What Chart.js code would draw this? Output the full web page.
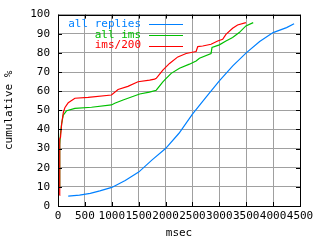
<!DOCTYPE html>
<html><head><meta charset="utf-8">
<script src="https://cdn.jsdelivr.net/npm/chart.js@4/dist/chart.umd.min.js"></script>
<style>html,body{margin:0;padding:0;background:#fff}#wrap{width:320px;height:240px}</style>
</head><body><div id="wrap"><canvas id="c" width="320" height="240"></canvas></div>
<script>
const seriesNames = ['all replies', 'all ims', 'ims/200'];
const seriesColors = ['rgb(0,128,255)', 'rgb(0,192,0)', 'rgb(255,0,0)'];
const xTicks = [0, 500, 1000, 1500, 2000, 2500, 3000, 3500, 4000, 4500];
const yTicks = [0, 10, 20, 30, 40, 50, 60, 70, 80, 90, 100];

const allRepliesX = [190, 400, 600, 778, 1000, 1250, 1500, 1750, 2000, 2250, 2500, 2750, 3000, 3250, 3500, 3750, 4000, 4250, 4390];
const allRepliesY = [5.2, 5.7, 6.6, 7.9, 9.7, 13.3, 17.7, 24.1, 30, 38, 48, 56.8, 65.4, 73.2, 80, 85.9, 90.6, 93.2, 95.2];

const allImsX = [30, 31, 33, 47, 68, 98, 161, 315, 623, 994, 1055, 1210, 1519, 1700, 1827, 1950, 2012, 2105, 2259, 2444, 2568, 2630, 2846, 2864, 3000, 3123, 3247, 3370, 3494, 3630];
const allImsY = [10, 20, 32, 38, 43, 47.5, 49.8, 51, 51.6, 52.8, 53.7, 55.4, 58.5, 59.5, 60.5, 64.9, 66.7, 69.3, 72, 74.1, 75.8, 77.2, 79.7, 82.8, 84.2, 86.2, 88, 90.6, 94.1, 95.8];

const ims200X = [30, 31, 33, 47, 68, 100, 130, 191, 315, 561, 994, 1117, 1300, 1488, 1704, 1796, 1827, 1950, 2074, 2228, 2383, 2475, 2568, 2599, 2691, 2846, 2969, 3062, 3123, 3247, 3339, 3494];
const ims200Y = [5.6, 20, 35, 36, 43, 49, 51.5, 54, 56.3, 56.8, 58, 60.9, 62.5, 64.9, 65.8, 66.3, 66.7, 71, 74.5, 77.9, 79.7, 80.2, 80.7, 83.3, 83.6, 84.5, 86.2, 87.1, 89.7, 92.9, 94.6, 95.8];

const pts = (xs, ys) => xs.map((x, i) => ({x: x, y: ys[i]}));
const FONT = {family: "'DejaVu Sans Mono', monospace", size: 11, lineHeight: 1.2};

const frame = {
  id: 'frame',
  afterDatasetsDraw(chart) {
    const {ctx, chartArea: a, scales} = chart;
    ctx.save();
    ctx.strokeStyle = '#000';
    ctx.lineWidth = 1;
    ctx.beginPath();
    const tl = 4;
    xTicks.forEach(v => {
      const px = Math.round(scales.x.getPixelForValue(v)) + 0.5;
      ctx.moveTo(px, a.bottom); ctx.lineTo(px, a.bottom - tl);
      ctx.moveTo(px, a.top); ctx.lineTo(px, a.top + tl);
    });
    yTicks.forEach(v => {
      const py = Math.round(scales.y.getPixelForValue(v)) + 0.5;
      ctx.moveTo(a.left, py); ctx.lineTo(a.left + tl, py);
      ctx.moveTo(a.right, py); ctx.lineTo(a.right - tl, py);
    });
    ctx.stroke();
    ctx.strokeRect(Math.round(a.left) + 0.5, Math.round(a.top) + 0.5, Math.round(a.right - a.left), Math.round(a.bottom - a.top));
    // legend
    ctx.font = "11px 'DejaVu Sans Mono', monospace";
    ctx.textAlign = 'right';
    ctx.textBaseline = 'middle';
    const rows = [24, 35, 45.5];
    chart.data.datasets.forEach((ds, i) => {
      ctx.fillStyle = ds.borderColor;
      ctx.fillText(ds.label, 141, rows[i]);
      ctx.strokeStyle = ds.borderColor;
      ctx.beginPath();
      ctx.moveTo(149, Math.round(rows[i]) + 0.5);
      ctx.lineTo(183, Math.round(rows[i]) + 0.5);
      ctx.stroke();
    });
    ctx.restore();
  }
};

new Chart(document.getElementById('c'), {
  type: 'scatter',
  data: {
    datasets: [
      {label: seriesNames[0], data: pts(allRepliesX, allRepliesY), borderColor: seriesColors[0], order: 3},
      {label: seriesNames[1], data: pts(allImsX, allImsY), borderColor: seriesColors[1], order: 2},
      {label: seriesNames[2], data: pts(ims200X, ims200Y), borderColor: seriesColors[2], order: 1}
    ].map(d => Object.assign(d, {showLine: true, pointRadius: 0, borderWidth: 1.2, fill: false, tension: 0}))
  },
  options: {
    responsive: false,
    animation: false,
    events: [],
    layout: {padding: {top: 14, right: 20, left: 0, bottom: 0}},
    plugins: {legend: {display: false}, tooltip: {enabled: false}},
    scales: {
      x: {
        type: 'linear', min: 0, max: 4500,
        afterBuildTicks: s => { s.ticks = xTicks.map(v => ({value: v})); },
        afterFit: s => { s.height = 34; },
        ticks: {autoSkip: false, maxRotation: 0, minRotation: 0, color: '#000', font: FONT, padding: 4, callback: v => String(v)},
        grid: {color: '#a0a0a0', drawTicks: false, lineWidth: 1},
        border: {display: false},
        title: {display: true, text: 'msec', color: '#000', font: FONT, padding: 0}
      },
      y: {
        type: 'linear', min: 0, max: 100,
        afterBuildTicks: s => { s.ticks = yTicks.map(v => ({value: v})); },
        afterFit: s => { s.width = 58; },
        ticks: {autoSkip: false, color: '#000', font: FONT, padding: 8, callback: v => String(v)},
        grid: {color: '#a0a0a0', drawTicks: false, lineWidth: 1},
        border: {display: false},
        title: {display: true, text: 'cumulative %', color: '#000', font: FONT, padding: {top: 3, bottom: 0}}
      }
    }
  },
  plugins: [frame]
});
</script>
</body></html>
